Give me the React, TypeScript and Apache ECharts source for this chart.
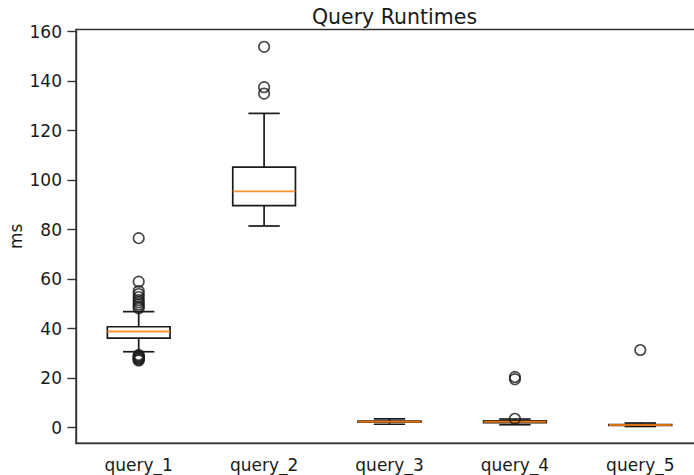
import React, { useEffect, useRef } from "react";
import * as echarts from "echarts";

// Query names along the x axis
const categories = ["query_1", "query_2", "query_3", "query_4", "query_5"];

// Five-number summaries: [lower whisker, Q1, median, Q3, upper whisker] in ms
const whiskerLow = [30.7, 81.5, 1.4, 1.2, 0.5];
const quartile1 = [36.2, 89.7, 2.2, 2.0, 0.9];
const medians = [38.9, 95.5, 2.4, 2.4, 1.1];
const quartile3 = [40.8, 105.3, 2.7, 2.8, 1.3];
const whiskerHigh = [46.9, 127.0, 3.6, 3.5, 1.9];

// Outlier points per query (ms)
const outliers: number[][] = [
  [76.6, 59.0, 55.2, 54.0, 52.8, 51.6, 50.7, 49.8, 49.0, 48.3, 29.4, 29.0, 28.6, 28.2, 27.9, 27.5, 27.2],
  [153.9, 137.6, 135.0],
  [],
  [20.5, 19.6, 3.6],
  [31.4],
];

// Y axis tick values
const yTicks = [0, 20, 40, 60, 80, 100, 120, 140, 160];

const FONT = "DejaVu Sans";
const INK = "#1a1a1a";
const MEDIAN = "#ff7f0e";

export default function App() {
  const ref = useRef<HTMLDivElement>(null);

  useEffect(() => {
    if (!ref.current) return;
    const chart = echarts.init(ref.current, null, { renderer: "svg" });

    const boxData = categories.map((_, i) => [
      i,
      whiskerLow[i],
      quartile1[i],
      medians[i],
      quartile3[i],
      whiskerHigh[i],
    ]);

    const outlierData: number[][] = [];
    outliers.forEach((vals, i) => vals.forEach((v) => outlierData.push([i, v])));

    const lineStyle = { stroke: INK, lineWidth: 1.7, fill: null as any };

    chart.setOption({
      animation: false,
      title: {
        text: "Query Runtimes",
        left: 389.5,
        textAlign: "center",
        top: 1,
        textStyle: { fontFamily: FONT, fontSize: 20.5, fontWeight: "normal", color: INK },
      },
      grid: {
        left: 76,
        top: 29.5,
        width: 627,
        height: 413.8,
        outerBoundsMode: "none",
        containLabel: false,
        show: true,
        borderColor: "#333",
        borderWidth: 1.4,
        backgroundColor: "transparent",
      },
      xAxis: {
        type: "category",
        data: categories,
        boundaryGap: true,
        axisLine: { onZero: false, lineStyle: { color: "#333", width: 1.4 } },
        axisTick: { alignWithLabel: true, length: 8.6, lineStyle: { color: "#333", width: 1.4 } },
        axisLabel: { fontFamily: FONT, fontSize: 17, color: INK, margin: 13 },
        splitLine: { show: false },
      },
      yAxis: {
        type: "value",
        min: -6.3,
        max: 160.9,
        name: "ms",
        nameLocation: "middle",
        nameGap: 52,
        nameMoveOverlap: false,
        nameRotate: 90,
        nameTextStyle: { fontFamily: FONT, fontSize: 17, color: INK },
        axisLine: { show: true, onZero: false, lineStyle: { color: "#333", width: 1.4 } },
        axisTick: { show: true, length: 8.6, customValues: yTicks, lineStyle: { color: "#333", width: 1.4 } },
        axisLabel: { fontFamily: FONT, fontSize: 17, color: INK, margin: 14, customValues: yTicks },
        splitLine: { show: false },
      },
      series: [
        {
          type: "custom",
          data: boxData,
          encode: { x: 0, y: [1, 2, 3, 4, 5] },
          renderItem: (params: any, api: any) => {
            const idx = api.value(0);
            const band = api.size([1, 0])[0];
            const half = band * 0.25;
            const cap = band * 0.125;
            const pLow = api.coord([idx, api.value(1)]);
            const pQ1 = api.coord([idx, api.value(2)]);
            const pMed = api.coord([idx, api.value(3)]);
            const pQ3 = api.coord([idx, api.value(4)]);
            const pHigh = api.coord([idx, api.value(5)]);
            const x = pMed[0];
            return {
              type: "group",
              children: [
                { type: "line", shape: { x1: x, y1: pQ1[1], x2: x, y2: pLow[1] }, style: lineStyle },
                { type: "line", shape: { x1: x, y1: pQ3[1], x2: x, y2: pHigh[1] }, style: lineStyle },
                { type: "line", shape: { x1: x - cap, y1: pLow[1], x2: x + cap, y2: pLow[1] }, style: lineStyle },
                { type: "line", shape: { x1: x - cap, y1: pHigh[1], x2: x + cap, y2: pHigh[1] }, style: lineStyle },
                {
                  type: "rect",
                  shape: { x: x - half, y: pQ3[1], width: half * 2, height: pQ1[1] - pQ3[1] },
                  style: { stroke: INK, lineWidth: 1.7, fill: "none" },
                },
                {
                  type: "line",
                  shape: { x1: x - half, y1: pMed[1], x2: x + half, y2: pMed[1] },
                  style: { stroke: MEDIAN, lineWidth: 1.9, opacity: 0.85 },
                },
              ],
            };
          },
          z: 2,
        },
        {
          type: "scatter",
          data: outlierData,
          symbol: "circle",
          symbolSize: 10.5,
          itemStyle: { color: "rgba(0,0,0,0)", borderColor: INK, borderWidth: 1.6 },
          z: 3,
        },
      ],
    });

    return () => chart.dispose();
  }, []);

  return (
    <div style={{ position: "absolute", left: 0, top: 0, width: 694, height: 475, overflow: "hidden", background: "#fff" }}>
      <div ref={ref} style={{ width: 720, height: 475 }} />
    </div>
  );
}
